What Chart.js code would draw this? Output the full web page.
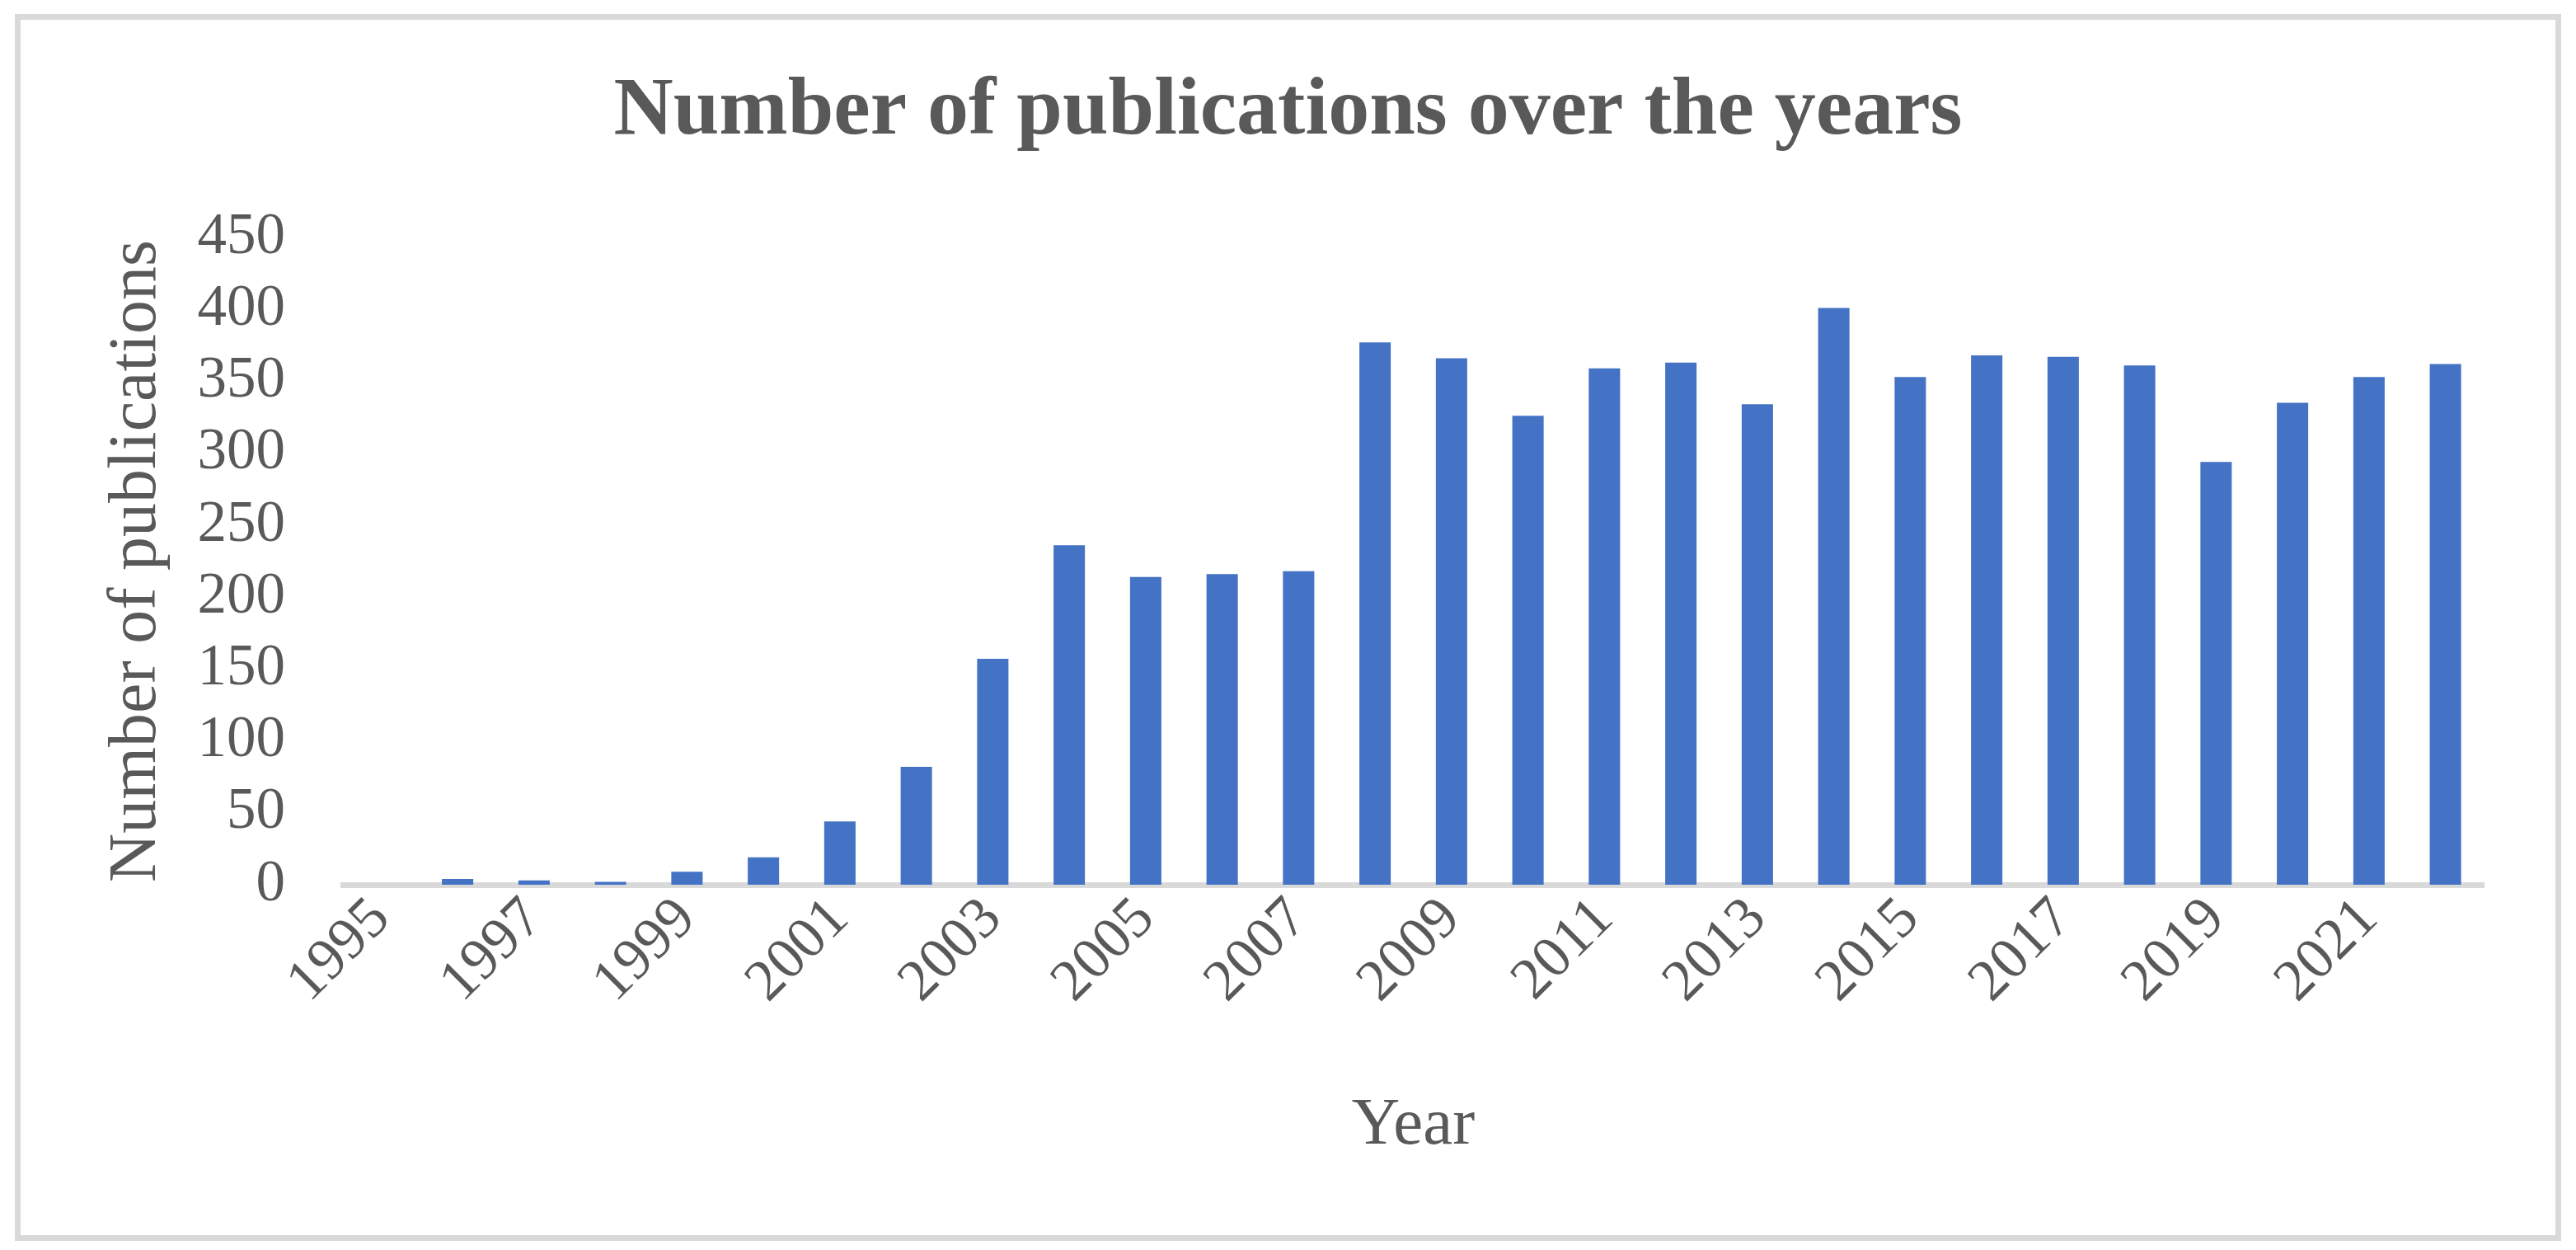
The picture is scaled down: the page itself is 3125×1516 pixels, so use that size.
<!DOCTYPE html>
<html>
<head>
<meta charset="utf-8">
<script src="https://cdn.jsdelivr.net/npm/chart.js@4.4.1/dist/chart.umd.min.js"></script>
<style>
  html, body { margin: 0; padding: 0; background: #ffffff; }
  #wrap { width: 3125px; height: 1516px; position: relative; }
  canvas { display: block; }
</style>
</head>
<body>
<div id="wrap"><canvas id="c" width="3125" height="1516"></canvas></div>
<script>
// ---- data ----
const years = ['1995','1996','1997','1998','1999','2000','2001','2002','2003','2004',
               '2005','2006','2007','2008','2009','2010','2011','2012','2013','2014',
               '2015','2016','2017','2018','2019','2020','2021','2022'];
const publications = [0, 4, 3, 2, 9, 19, 44, 82, 157, 236,
                      214, 216, 218, 377, 366, 326, 359, 363, 334, 401,
                      353, 368, 367, 361, 294, 335, 353, 362];
const yTicksMin = 0;
const yTicksMax = 450;
const yTickStep = 50;
const chartTitle = 'Number of publications over the years';
const xTitle = 'Year';
const yTitle = 'Number of publications';

const textColor = '#595959';
const barColor = '#4472C4';
const lineColor = '#D9D9D9';
const serif = '"Liberation Serif", "Times New Roman", serif';

const framePlugin = {
  id: 'frame',
  beforeDraw(chart) {
    const ctx = chart.ctx;
    ctx.save();
    ctx.fillStyle = '#ffffff';
    ctx.fillRect(0, 0, chart.width, chart.height);
    ctx.restore();
  },
  afterDraw(chart) {
    const ctx = chart.ctx;
    ctx.save();
    ctx.strokeStyle = lineColor;
    ctx.lineWidth = 7;
    ctx.strokeRect(21.5, 20.5, 3082, 1481);
    ctx.restore();
  }
};

new Chart(document.getElementById('c'), {
  type: 'bar',
  data: {
    labels: years,
    datasets: [{
      label: 'Publications',
      data: publications,
      backgroundColor: barColor,
      borderWidth: 0,
      categoryPercentage: 1.0,
      barPercentage: 0.41
    }]
  },
  options: {
    responsive: false,
    animation: false,
    devicePixelRatio: 1,
    layout: { padding: 0 },
    plugins: {
      legend: { display: false },
      tooltip: { enabled: false },
      title: {
        display: true,
        text: chartTitle,
        color: textColor,
        font: { family: serif, size: 100, weight: 'bold', lineHeight: 1.2 },
        padding: { top: 76, bottom: 92 }
      }
    },
    scales: {
      x: {
        z: 1,
        grid: { display: false, drawTicks: false },
        border: { display: true, color: lineColor, width: 7 },
        ticks: {
          color: textColor,
          font: { family: serif, size: 71, lineHeight: 1.2 },
          autoSkip: false,
          minRotation: 45,
          maxRotation: 45,
          padding: 0,
          callback: function(val, idx) { return idx % 2 === 0 ? years[idx] : ''; }
        },
        title: {
          display: true,
          text: xTitle,
          color: textColor,
          font: { family: serif, size: 81, lineHeight: 1.2 },
          padding: { top: 0, bottom: 102 }
        },
        afterFit(scale) { scale.height = 443; }
      },
      y: {
        min: yTicksMin,
        max: yTicksMax,
        grid: { display: false, drawTicks: false },
        border: { display: false },
        ticks: {
          stepSize: yTickStep,
          autoSkip: false,
          color: textColor,
          font: { family: serif, size: 71, lineHeight: 1.2 },
          padding: 70
        },
        title: {
          display: true,
          text: yTitle,
          color: textColor,
          font: { family: serif, size: 82, lineHeight: 1.2 },
          padding: { top: 117, bottom: 0 }
        },
        afterFit(scale) { scale.width = 416; }
      },
      yRightSpace: {
        position: 'right',
        display: true,
        min: 0,
        max: 1,
        grid: { display: false, drawTicks: false },
        border: { display: false },
        ticks: { display: false },
        afterFit(scale) { scale.width = 112; }
      }
    }
  },
  plugins: [framePlugin]
});
</script>
</body>
</html>
